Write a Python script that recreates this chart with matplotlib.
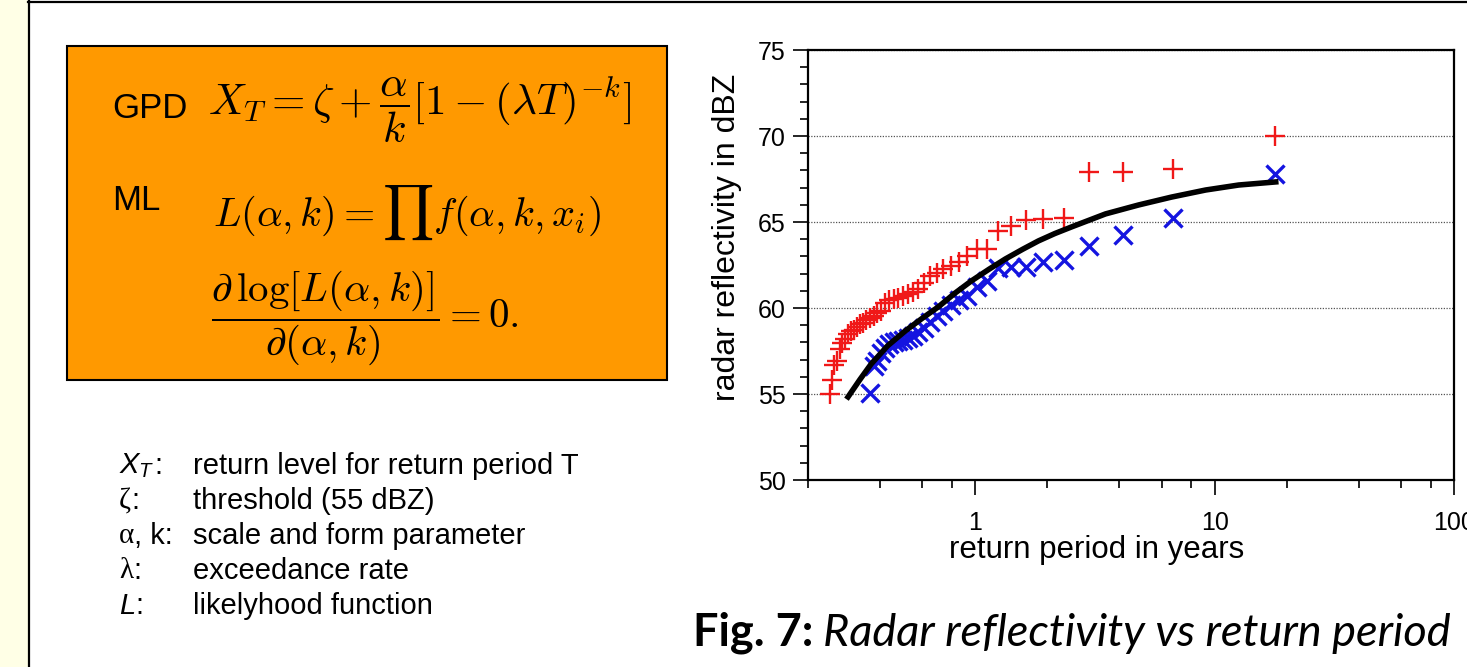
import matplotlib
matplotlib.use("Agg")
import matplotlib.pyplot as plt
from matplotlib.patches import Rectangle
from matplotlib.lines import Line2D
from matplotlib.ticker import FixedLocator, NullFormatter, MultipleLocator

W, H = 1467, 667

# return periods (years) of the ranked exceedances
period = [17.92, 6.72, 4.135, 2.986, 2.337, 1.920, 1.629, 1.414, 1.250, 1.120,
          1.014, 0.927, 0.853, 0.790, 0.736, 0.689, 0.648, 0.611, 0.578, 0.548,
          0.522, 0.498, 0.476, 0.456, 0.437, 0.420, 0.404, 0.389, 0.376, 0.363,
          0.351, 0.340, 0.330, 0.320, 0.311, 0.302, 0.294, 0.286, 0.278, 0.271,
          0.265, 0.258, 0.252, 0.247]

# red "+" series (44 events)
red_dbz = [70.0, 68.1, 67.9, 67.9, 65.25, 65.15, 65.1, 64.75, 64.5, 63.45,
           63.45, 63.05, 62.7, 62.45, 62.25, 62.05, 61.85, 61.45, 61.1, 60.95,
           60.8, 60.7, 60.6, 60.5, 60.45, 60.3, 59.85, 59.7, 59.55, 59.4,
           59.3, 59.15, 59.05, 58.9, 58.75, 58.65, 58.5, 58.2, 57.95, 57.6,
           56.9, 56.7, 55.8, 55.0]

# blue "x" series (30 events, same ranks)
blue_dbz = [67.8, 65.25, 64.25, 63.6, 62.8, 62.7, 62.4, 62.4, 62.3, 61.55,
            61.2, 60.7, 60.45, 60.15, 59.8, 59.55, 59.2, 58.85, 58.6, 58.35,
            58.25, 58.15, 58.07, 58.0, 57.9, 57.7, 57.4, 56.9, 56.6, 55.05]

# fitted GPD return level curve
fit_period = [0.294, 0.33, 0.367, 0.43, 0.509, 0.60, 0.700, 0.82, 0.962, 1.14,
              1.335, 1.58, 1.835, 2.15, 2.52, 3.50, 4.81, 6.61, 9.17, 12.6, 18.0]
fit_dbz = [54.83, 55.85, 56.74, 57.8, 58.66, 59.4, 60.06, 60.85, 61.57, 62.25,
           62.85, 63.42, 63.90, 64.33, 64.71, 65.47, 65.99, 66.45, 66.86, 67.15, 67.33]

x_major = [1, 10, 100]
x_major_labels = ["1", "10", "100"]
x_minor = [0.2, 0.4, 0.6, 0.8, 2, 4, 6, 8, 20, 40, 60, 80]

legend_symbols = [r"$X_T$", "\u03b6", "\u03b1", "\u03bb", r"$L$"]
legend_suffix = [":", ":", ", k:", ":", ":"]
legend_serif = [False, True, True, True, False]
legend_texts = ["return level for return period T", "threshold (55 dBZ)",
                "scale and form parameter", "exceedance rate",
                "likelyhood function"]

plt.rcParams["font.family"] = "Liberation Sans"
plt.rcParams["mathtext.fontset"] = "custom"
plt.rcParams["mathtext.rm"] = "Liberation Sans"
plt.rcParams["mathtext.it"] = "Liberation Sans:italic"


def fx(x):
    return x / W


def fy(y):
    return 1 - y / H


fig = plt.figure(figsize=(W / 100, H / 100), dpi=100)
fig.patch.set_facecolor("white")
renderer = fig.canvas.get_renderer()

# page decoration
fig.patches.append(Rectangle((0, 0), fx(28), 1, transform=fig.transFigure,
                             facecolor="#FFFFE6", edgecolor="none", zorder=0))
fig.lines.append(Line2D([fx(28.5), fx(28.5)], [0, 1], transform=fig.transFigure,
                        color="black", lw=1.6))
fig.lines.append(Line2D([fx(28), 1], [fy(1.5), fy(1.5)], transform=fig.transFigure,
                        color="black", lw=1.6))

# formula box
fig.patches.append(Rectangle((fx(67), fy(380)), fx(600), 334 / H, transform=fig.transFigure,
                             facecolor="#FF9900", edgecolor="black", lw=1.5, zorder=1))
fig.text(fx(112), fy(108), "GPD", fontsize=25, va="center", ha="left")
fig.text(fx(112), fy(200), "ML", fontsize=25, va="center", ha="left")
fig.text(fx(208), fy(110), r"$X_T = \zeta + \dfrac{\alpha}{k}[1 - (\lambda T)^{-k}]$",
         fontsize=31, va="center", ha="left", math_fontfamily="cm")
fig.text(fx(213), fy(213), r"$L(\alpha, k) = \prod f(\alpha, k, x_i)$",
         fontsize=29, va="center", ha="left", math_fontfamily="cm")
fig.text(fx(211), fy(318), r"$\dfrac{\partial\,\log[L(\alpha, k)]}{\partial(\alpha, k)} = 0.$",
         fontsize=29.5, va="center", ha="left", math_fontfamily="cm")

# symbol legend
for i in range(len(legend_texts)):
    y = fy(466 + 35 * i)
    fam = "Liberation Serif" if legend_serif[i] else "Liberation Sans"
    t = fig.text(fx(119), y, legend_symbols[i], fontsize=21, family=fam,
                 va="center", ha="left")
    bb = t.get_window_extent(renderer)
    fig.text(bb.x1 / W, y, legend_suffix[i], fontsize=21, va="center", ha="left")
    fig.text(fx(193), y, legend_texts[i], fontsize=21, va="center", ha="left")

# chart
ax = fig.add_axes([fx(808), fy(480), 646 / W, 430 / H])
ax.plot(period, red_dbz, "+", color="#F01818", ms=15, mew=1.7, zorder=3)
ax.plot(period[:len(blue_dbz)], blue_dbz, "x", color="#1414E0", ms=13, mew=2.4, zorder=3)
ax.plot(fit_period, fit_dbz, "-", color="black", lw=4, zorder=4)

ax.set_xscale("log")
ax.set_xlim(0.2, 100)
ax.set_ylim(50, 75)
ax.xaxis.set_major_locator(FixedLocator(x_major))
ax.xaxis.set_ticklabels(x_major_labels)
ax.xaxis.set_minor_locator(FixedLocator(x_minor))
ax.xaxis.set_minor_formatter(NullFormatter())
ax.yaxis.set_major_locator(MultipleLocator(5))
ax.yaxis.set_minor_locator(MultipleLocator(1))
ax.tick_params(which="major", direction="out", length=11, width=1.2, labelsize=18)
ax.tick_params(which="minor", direction="out", length=6, width=1.2)
ax.tick_params(axis="x", which="major", pad=11)
ax.tick_params(axis="y", which="major", pad=5)
for s in ax.spines.values():
    s.set_linewidth(1.6)
ax.grid(axis="y", which="major", linestyle=(0, (1, 1.2)), color="#555555", lw=0.9)

ax.set_ylabel("radar reflectivity in dBZ", fontsize=23)
ax.yaxis.set_label_coords(-0.102, 0.565)
ax.set_xlabel("return period in years", fontsize=22.5)
ax.xaxis.set_label_coords(0.447, -0.128)

# caption
cap1 = fig.text(fx(693), fy(633), "Fig. 7:", fontsize=32.5, fontweight="bold",
                family="Lato", va="center", ha="left")
bb = cap1.get_window_extent(renderer)
fig.text(bb.x1 / W + fx(10), fy(633), "Radar reflectivity vs return period", fontsize=32.5,
         fontstyle="italic", family="Lato", va="center", ha="left")

fig.savefig("out.png", dpi=100)
